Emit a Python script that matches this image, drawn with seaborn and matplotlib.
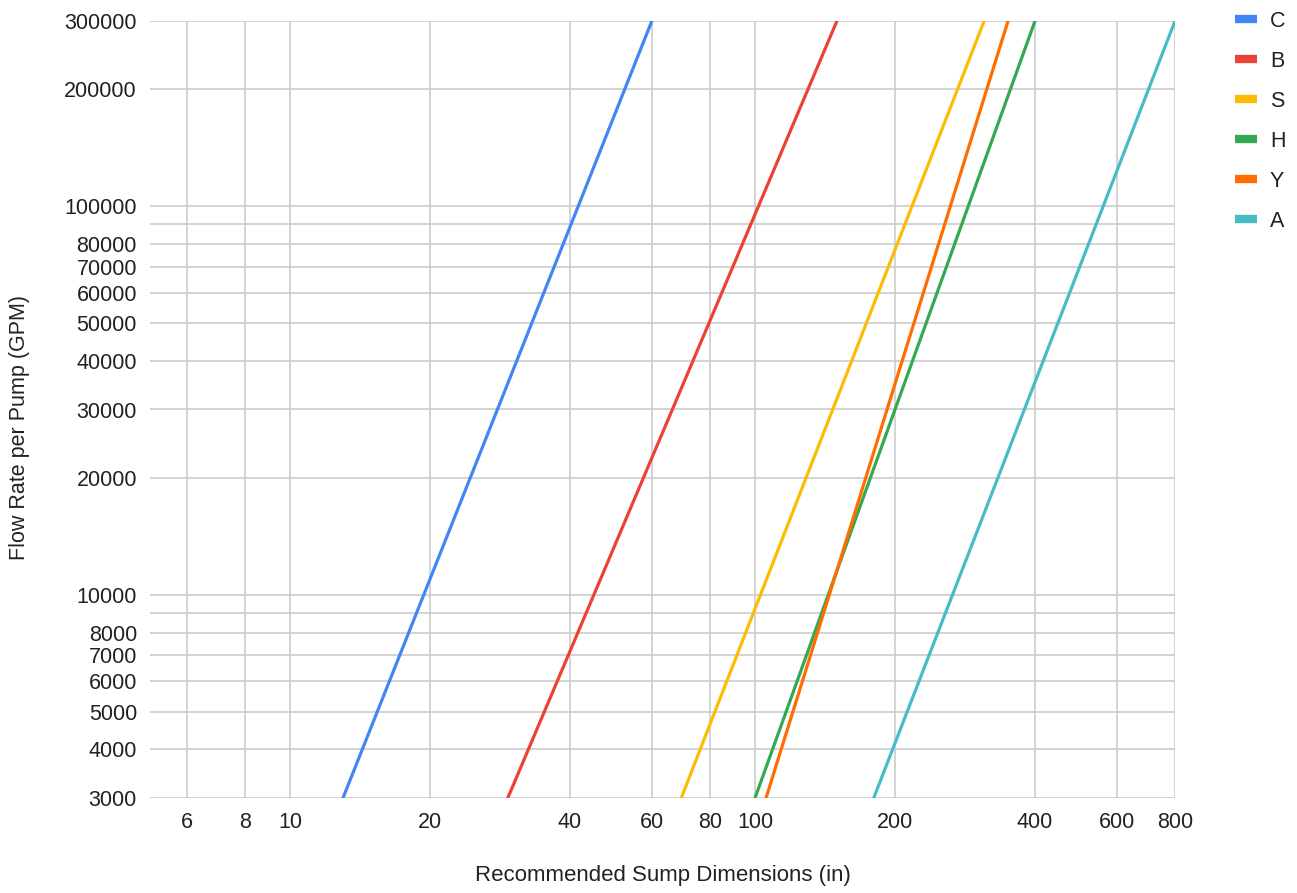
import matplotlib
matplotlib.use("Agg")
import matplotlib.pyplot as plt
import seaborn as sns
import pandas as pd
from matplotlib.ticker import FixedLocator, NullFormatter, NullLocator

# Data: recommended sump dimension (in) at the flow-rate endpoints (GPM)
series = ["C", "B", "S", "H", "Y", "A"]
flow_gpm = [3000, 300000]
dim_C = [13.0, 60]
dim_B = [29.4, 150]
dim_S = [69.4, 311]
dim_H = [100, 400]
dim_Y = [105.6, 350]
dim_A = [180, 800]
colors = ["#4285F4", "#EA4335", "#FBBC04", "#34A853", "#FF6D01", "#46BDC6"]

x_ticks = [6, 8, 10, 20, 40, 60, 80, 100, 200, 400, 600, 800]
y_ticks = [3000, 4000, 5000, 6000, 7000, 8000, 10000, 20000, 30000, 40000,
           50000, 60000, 70000, 80000, 100000, 200000, 300000]
y_minor = [9000, 90000]

dims = {"C": dim_C, "B": dim_B, "S": dim_S, "H": dim_H, "Y": dim_Y, "A": dim_A}
rows = []
for s in series:
    for d, f in zip(dims[s], flow_gpm):
        rows.append({"series": s, "dim": d, "flow": f})
df = pd.DataFrame(rows)

sns.set_theme(style="white")
plt.rcParams["font.family"] = ["Liberation Sans", "DejaVu Sans"]

FS = 15.5
TXT = "#222222"

W, H = 1297, 893
fig = plt.figure(figsize=(W / 100, H / 100), dpi=100)
ax = fig.add_axes([150 / W, 1 - 798 / H, (1175 - 150) / W, (798 - 21) / H])

sns.lineplot(data=df, x="dim", y="flow", hue="series", hue_order=series,
             palette=colors, linewidth=2.3, ax=ax, legend=True, zorder=3)

ax.set_xscale("log")
ax.set_yscale("log")
ax.set_xlim(5, 800)
ax.set_ylim(3000, 300000)

ax.xaxis.set_major_locator(FixedLocator(x_ticks))
ax.xaxis.set_minor_locator(NullLocator())
ax.set_xticklabels([str(t) for t in x_ticks])
ax.yaxis.set_major_locator(FixedLocator(y_ticks))
ax.yaxis.set_minor_locator(FixedLocator(y_minor))
ax.yaxis.set_minor_formatter(NullFormatter())
ax.set_yticklabels([str(t) for t in y_ticks])

ax.grid(True, which="major", color="#cccccc", linewidth=1.2, zorder=0)
ax.grid(True, which="minor", axis="y", color="#cccccc", linewidth=1.2, zorder=0)
for sp in ax.spines.values():
    sp.set_visible(False)
ax.tick_params(axis="both", which="both", length=0, labelsize=FS, colors=TXT)
ax.tick_params(axis="x", pad=10)
ax.tick_params(axis="y", pad=9.4)

ax.set_xlabel("Recommended Sump Dimensions (in)", fontsize=FS + 0.5, color=TXT, va="center")
ax.set_ylabel("Flow Rate per Pump (GPM)", fontsize=FS, color=TXT, va="center")
ax.xaxis.set_label_coords(663 / W, 1 - 876 / H, transform=fig.transFigure)
ax.yaxis.set_label_coords(20 / W, 1 - 427 / H, transform=fig.transFigure)

handles, labels = ax.get_legend_handles_labels()
leg = ax.legend(handles, labels, loc="upper left", bbox_to_anchor=(1235 / W, 1 - 11 / H),
                bbox_transform=fig.transFigure, frameon=False, fontsize=FS,
                handlelength=1.0, handletextpad=0.62, labelspacing=0.88, borderaxespad=0,
                borderpad=0)
for line in leg.get_lines():
    line.set_linewidth(6)
    line.set_solid_capstyle("butt")
for t in leg.get_texts():
    t.set_color(TXT)

fig.savefig("out.png", dpi=100)
